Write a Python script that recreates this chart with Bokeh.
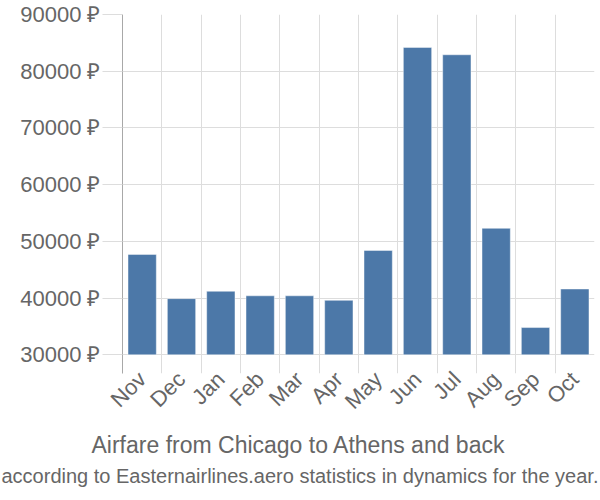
from math import pi
from bokeh.plotting import figure
from bokeh.models import FactorRange, Range1d, FixedTicker, PrintfTickFormatter, Title
from bokeh.embed import file_html
from bokeh.resources import INLINE

months = ["Nov", "Dec", "Jan", "Feb", "Mar", "Apr", "May", "Jun", "Jul", "Aug", "Sep", "Oct"]
prices = [47700, 39900, 41200, 40400, 40400, 39600, 48400, 84200, 82900, 52300, 34800, 41600]
y_ticks = [30000, 40000, 50000, 60000, 70000, 80000, 90000]
title_text = "Airfare from Chicago to Athens and back"
subtitle_text = "according to Easternairlines.aero statistics in dynamics for the year."

FONT = "Liberation Sans"
TXT = "#666666"
GRID = "#dddddd"

p = figure(
    width=600, height=500,
    x_range=FactorRange(factors=months, range_padding=0),
    y_range=Range1d(26700, 90000),
    output_backend="svg", toolbar_location=None,
    min_border_left=122, min_border_right=6, min_border_top=14, min_border_bottom=127,
)
p.outline_line_color = None
p.background_fill_color = "white"
p.border_fill_color = "white"

p.vbar(x=months, top=prices, bottom=y_ticks[0], width=0.72,
       fill_color="#4C78A8", line_color="white", line_alpha=0.45, line_width=1)

# grids
p.xgrid.ticker = FixedTicker(ticks=list(range(len(months) + 1)))
p.xgrid.grid_line_color = GRID
p.ygrid.ticker = FixedTicker(ticks=y_ticks)
p.ygrid.grid_line_color = GRID

# y axis
ya = p.yaxis[0]
ya.ticker = FixedTicker(ticks=y_ticks)
ya.formatter = PrintfTickFormatter(format="%d ₽")
ya.axis_line_color = "#a8a8a8"
ya.major_tick_line_color = GRID
ya.major_tick_out = 20
ya.major_tick_in = 0
ya.minor_tick_line_color = None
ya.major_label_standoff = 2
ya.major_label_text_font = FONT
ya.major_label_text_font_size = "22px"
ya.major_label_text_color = TXT

# x axis
xa = p.xaxis[0]
xa.axis_line_color = None
xa.major_tick_line_color = None
xa.major_tick_out = 0
xa.major_tick_in = 0
xa.major_label_orientation = pi / 4
xa.major_label_standoff = 2
xa.major_label_text_font = FONT
xa.major_label_text_font_size = "22px"
xa.major_label_text_color = TXT

t1 = Title(text=title_text, align="left", offset=-31, text_font=FONT,
           text_font_size="23px", text_font_style="normal", text_color=TXT, standoff=9)
t2 = Title(text=subtitle_text, align="left", offset=-121, text_font=FONT,
           text_font_size="20px", text_font_style="normal", text_color=TXT, standoff=0)
p.add_layout(t1, "below")
p.add_layout(t2, "below")

open("out.html", "w").write(file_html(p, INLINE))
